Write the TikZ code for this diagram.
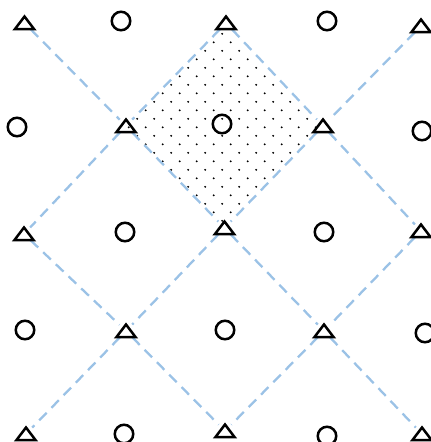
\documentclass[tikz,border=0pt]{standalone}
\definecolor{lineblue}{RGB}{155,194,230}
\tikzset{
  link/.style={draw=lineblue, line width=2.3pt, dash pattern=on 10.5pt off 7pt, shorten <=9pt, shorten >=9pt},
  circmark/.style={circle, draw=black, line width=2.5pt, minimum size=18.5pt, inner sep=0pt},
  tri/.pic={\draw[line width=2.5pt, line join=miter] (-9.5,6) -- (9.5,6) -- (0,-6.5) -- cycle;}
}
\begin{document}
\begin{tikzpicture}[x=1pt,y=-1pt]
\useasboundingbox (0,0) rectangle (431,442);
% triangle positions
\coordinate (T00) at (24.5,23);
\coordinate (T02) at (226,23);
\coordinate (T04) at (421,26);
\coordinate (T11) at (126,126);
\coordinate (T13) at (323,126);
\coordinate (T20) at (24,234);
\coordinate (T22) at (224.5,228);
\coordinate (T24) at (421,231);
\coordinate (T31) at (126,331);
\coordinate (T33) at (324,331);
\coordinate (T40) at (26,434);
\coordinate (T42) at (225,431);
\coordinate (T44) at (422,434);
% dotted diamond
\begin{scope}
  \clip (T02) -- (T13) -- (T22) -- (T11) -- cycle;
  \foreach \a in {-8,...,19}{
    \foreach \b in {-13,...,15}{
      \fill (162.7+8.5*\a+8.5*\b, 93.3+8.5*\a-8.5*\b) circle (1.05pt);
    }
  }
\end{scope}
% dashed connectors
\draw[link] (T00) -- (T11);
\draw[link] (T02) -- (T11);
\draw[link] (T02) -- (T13);
\draw[link] (T04) -- (T13);
\draw[link] (T11) -- (T20);
\draw[link] (T11) -- (T22);
\draw[link] (T13) -- (T22);
\draw[link] (T13) -- (T24);
\draw[link] (T20) -- (T31);
\draw[link] (T22) -- (T31);
\draw[link] (T22) -- (T33);
\draw[link] (T24) -- (T33);
\draw[link] (T31) -- (T40);
\draw[link] (T31) -- (T42);
\draw[link] (T33) -- (T42);
\draw[link] (T33) -- (T44);
% triangle markers
\foreach \t in {T00,T02,T04,T11,T13,T20,T22,T24,T31,T33,T40,T42,T44}{
  \pic at (\t) {tri};
}
% circle markers
\node[circmark] (C01) at (121,21) {};
\node[circmark] (C03) at (327,21) {};
\node[circmark] (C10) at (17,127) {};
\node[circmark] (C12) at (222,124) {};
\node[circmark] (C14) at (422,131) {};
\node[circmark] (C21) at (125,232) {};
\node[circmark] (C23) at (324,232) {};
\node[circmark] (C30) at (25,330) {};
\node[circmark] (C32) at (225,330) {};
\node[circmark] (C34) at (425,333) {};
\node[circmark] (C41) at (124,434) {};
\node[circmark] (C43) at (327,436) {};
\end{tikzpicture}
\end{document}
